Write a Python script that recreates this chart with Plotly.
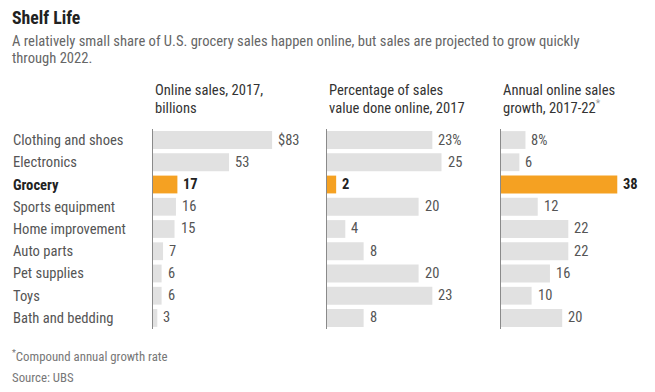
import plotly.graph_objects as go

categories = ["Clothing and shoes", "Electronics", "Grocery", "Sports equipment",
              "Home improvement", "Auto parts", "Pet supplies", "Toys", "Bath and bedding"]
online_sales = [83, 53, 17, 16, 15, 7, 6, 6, 3]
pct_online = [23, 25, 2, 20, 4, 8, 20, 23, 8]
growth = [8, 6, 38, 12, 22, 22, 16, 10, 20]
highlight = "Grocery"

headers = [["Online sales, 2017,", "billions"],
           ["Percentage of sales", "value done online, 2017"],
           ["Annual online sales", "growth, 2017-22<sup><span style='color:#999'>*</span></sup>"]]
first_prefix = ["$", "", ""]
first_suffix = ["", "%", "%"]

FONT = "Liberation Sans Narrow, Roboto Condensed, Arial Narrow, sans-serif"
W, H = 655, 392
GRAY = "#e1e1e1"
ORANGE = "#f5a122"

def px(x):
    return x / W

def py(y):
    return 1 - y / H

panel_left = [153, 327, 501]
panel_w = 150
px_per_unit = [1.435, 4.58, 3.06]
series = [online_sales, pct_online, growth]

fig = go.Figure()
ann = []
for i, vals in enumerate(series):
    xa = "x" if i == 0 else f"x{i+1}"
    ya = "y" if i == 0 else f"y{i+1}"
    colors = [ORANGE if c == highlight else GRAY for c in categories]
    fig.add_trace(go.Bar(x=vals, y=categories, orientation="h", marker_color=colors,
                         marker_line_width=0, width=0.8, xaxis=xa, yaxis=ya,
                         hoverinfo="skip", showlegend=False))
    rng = panel_w / px_per_unit[i]
    xkey = "xaxis" if i == 0 else f"xaxis{i+1}"
    ykey = "yaxis" if i == 0 else f"yaxis{i+1}"
    fig.layout[xkey] = dict(domain=[px(panel_left[i]), px(panel_left[i] + panel_w)],
                            range=[0, rng], visible=False, anchor=ya, fixedrange=True)
    fig.layout[ykey] = dict(domain=[py(329.1), py(128.9)], anchor=xa,
                            categoryorder="array", categoryarray=categories,
                            range=[8.5, -0.5], showticklabels=False, showgrid=False,
                            zeroline=False, showline=True, linecolor="#8a8a8a",
                            linewidth=1, ticks="", fixedrange=True)
    for j, (c, v) in enumerate(zip(categories, vals)):
        txt = f"{v}"
        if j == 0:
            txt = f"{first_prefix[i]}{v}{first_suffix[i]}"
        bold = c == highlight
        ann.append(dict(x=v, y=c, xref=xa, yref=ya, text=f"<b>{txt}</b>" if bold else txt,
                        xanchor="left", yanchor="middle", xshift=4, showarrow=False,
                        font=dict(family=FONT, size=14.5, color="#222" if bold else "#555")))
    for k, line in enumerate(headers[i]):
        ann.append(dict(x=px(panel_left[i]), y=py(90 + 18 * k), xref="paper", yref="paper",
                        text=line, xanchor="left", yanchor="middle", showarrow=False,
                        font=dict(family=FONT, size=14.6, color="#333")))

for c in categories:
    bold = c == highlight
    ann.append(dict(x=px(11), y=c, xref="paper", yref="y", text=f"<b>{c}</b>" if bold else c,
                    xanchor="left", yanchor="middle", showarrow=False,
                    font=dict(family=FONT, size=14.6, color="#222" if bold else "#555")))

ann.append(dict(x=px(10), y=py(17), xref="paper", yref="paper", text="<b>Shelf Life</b>",
                xanchor="left", yanchor="middle", showarrow=False,
                font=dict(family=FONT, size=17.8, color="#222")))
sub = ["A relatively small share of U.S. grocery sales happen online, but sales are projected to grow quickly",
       "through 2022."]
for k, s in enumerate(sub):
    ann.append(dict(x=px(10), y=py(41 + 17 * k), xref="paper", yref="paper", text=s,
                    xanchor="left", yanchor="middle", showarrow=False,
                    font=dict(family=FONT, size=14.6, color="#666")))
ann.append(dict(x=px(10), y=py(356), xref="paper", yref="paper",
                text="<sup>*</sup>Compound annual growth rate",
                xanchor="left", yanchor="middle", showarrow=False,
                font=dict(family=FONT, size=12.8, color="#777")))
ann.append(dict(x=px(10), y=py(377), xref="paper", yref="paper", text="Source: UBS",
                xanchor="left", yanchor="middle", showarrow=False,
                font=dict(family=FONT, size=12.8, color="#777")))

fig.update_layout(width=W, height=H, margin=dict(l=0, r=0, t=0, b=0),
                  paper_bgcolor="white", plot_bgcolor="white", annotations=ann,
                  font=dict(family=FONT), bargap=0.2)
fig.write_html("out.html", config={"displayModeBar": False},
               post_script="document.body.style.margin='0';document.body.style.padding='0';")
